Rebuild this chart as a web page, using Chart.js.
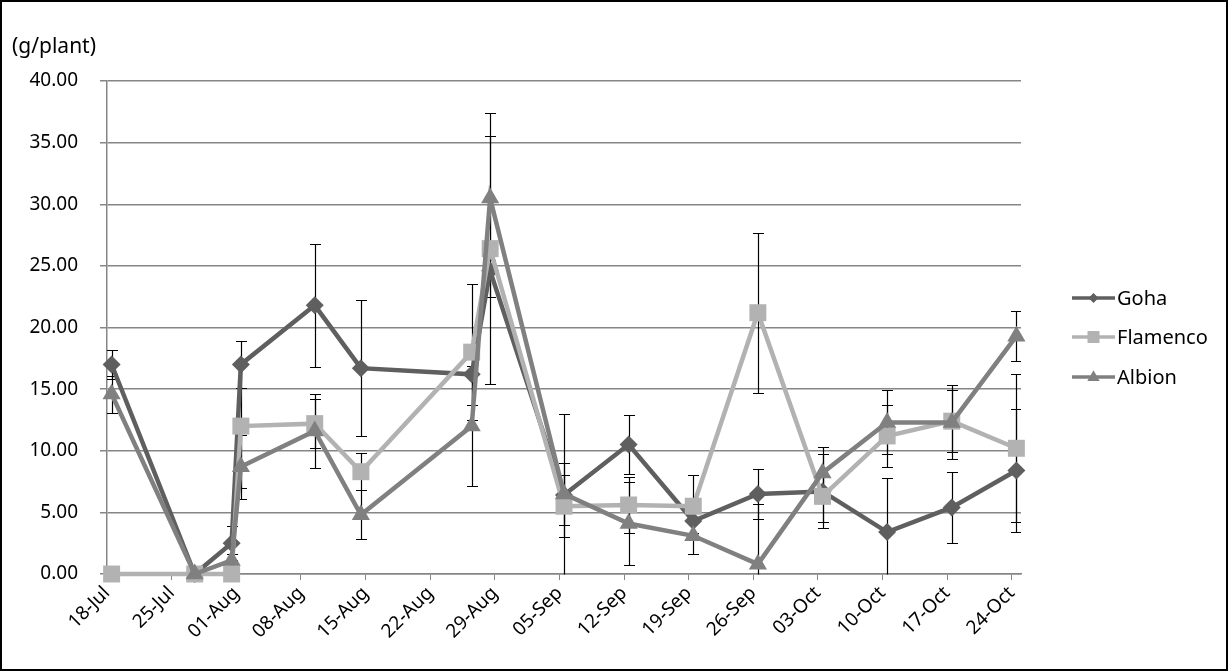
<!DOCTYPE html>
<html>
<head>
<meta charset="utf-8">
<script src="https://cdn.jsdelivr.net/npm/chart.js@4/dist/chart.umd.min.js"></script>
<style>
  html, body { margin: 0; padding: 0; background: #fff; }
  #wrap { position: relative; width: 1229px; height: 672px; }
  canvas { display: block; }
</style>
</head>
<body>
<div id="wrap"><canvas id="c" width="1229" height="672"></canvas></div>
<script>
// ---- data ----
const axisStart = '2011-07-18';
const sampleDates = ['2011-07-18','2011-07-27','2011-07-31','2011-08-01','2011-08-09','2011-08-14',
  '2011-08-26','2011-08-28','2011-09-05','2011-09-12','2011-09-19','2011-09-26','2011-10-03',
  '2011-10-10','2011-10-17','2011-10-24'];
const tickLabels = ['18-Jul','25-Jul','01-Aug','08-Aug','15-Aug','22-Aug','29-Aug','05-Sep',
  '12-Sep','19-Sep','26-Sep','03-Oct','10-Oct','17-Oct','24-Oct'];
const seriesNames = ['Goha', 'Flamenco', 'Albion'];
const gohaValues     = [17.0, 0, 2.5, 17.0, 21.8, 16.7, 16.2, 24.6, 6.4, 10.5, 4.3, 6.5, 6.7, 3.4, 5.4, 8.4];
const flamencoValues = [0, 0, 0, 12.0, 12.2, 8.3, 18.0, 26.4, 5.5, 5.6, 5.5, 21.2, 6.3, 11.2, 12.4, 10.2];
const albionValues   = [14.6, 0, 1.1, 8.7, 11.6, 4.8, 12.0, 30.5, 6.5, 4.1, 3.1, 0.8, 8.2, 12.3, 12.3, 19.3];
const gohaErrors     = [1.2, 0, 1.4, 1.9, 5.0, 5.5, 2.5, 2.1, 6.6, 2.4, 1.0, 2.0, 3.0, 4.4, 2.9, 5.0];
const flamencoErrors = [0, 0, 0, 5.0, 2.0, 1.5, 5.5, 11.0, 2.5, 2.3, 2.5, 6.5, 2.1, 2.5, 2.5, 6.0];
const albionErrors   = [1.5, 0, 0.5, 2.6, 3.0, 2.0, 4.9, 5.0, 2.5, 3.4, 1.5, 4.9, 2.1, 2.6, 3.0, 2.0];
const yUnit = '(g/plant)';

// ---- helpers ----
const DAY = 86400000;
const dayOf = s => Math.round((Date.parse(s) - Date.parse(axisStart)) / DAY);
const xDays = sampleDates.map(s => dayOf(s) + 0.5);   // Excel places points mid-day
const tickDays = tickLabels.map((_, i) => i * 7);
const toPts = vals => vals.map((v, i) => ({x: xDays[i], y: v}));

const colors = ['#5f5f5f', '#b2b2b2', '#808080'];
const styles = ['rectRot', 'rect', 'triangle'];
const radii = [9, 12, 10.5];
const errs = [gohaErrors, flamencoErrors, albionErrors];
const FONT = '"Noto Sans", "Open Sans", sans-serif';

function mkDs(i, vals, order) {
  return {
    label: seriesNames[i], data: toPts(vals),
    borderColor: colors[i], backgroundColor: colors[i],
    borderWidth: 4.5, tension: 0,
    pointStyle: styles[i], pointRadius: radii[i], pointHoverRadius: radii[i],
    pointBackgroundColor: colors[i], pointBorderColor: colors[i], pointBorderWidth: 0,
    order: order, clip: false
  };
}

const errorBars = {
  id: 'errorBars',
  beforeDatasetsDraw(chart) {
    const ctx = chart.ctx, xs = chart.scales.x, ys = chart.scales.y, a = chart.chartArea;
    ctx.save();
    ctx.beginPath(); ctx.rect(a.left, a.top, a.right - a.left, a.bottom - a.top + 0.5); ctx.clip();
    ctx.strokeStyle = '#000'; ctx.lineWidth = 1.2;
    chart.data.datasets.forEach((ds, di) => {
      ds.data.forEach((p, j) => {
        const e = errs[di][j];
        if (!e) return;
        const x = Math.round(xs.getPixelForValue(p.x)) + 0.5;
        const yt = Math.round(ys.getPixelForValue(p.y + e)) + 0.5;
        const yb = Math.round(ys.getPixelForValue(p.y - e)) + 0.5;
        ctx.beginPath();
        ctx.moveTo(x, yt); ctx.lineTo(x, yb);
        ctx.moveTo(x - 5.5, yt); ctx.lineTo(x + 5.5, yt);
        ctx.moveTo(x - 5.5, yb); ctx.lineTo(x + 5.5, yb);
        ctx.stroke();
      });
    });
    ctx.restore();
  }
};

function drawMarker(ctx, style, x, y, r, color) {
  ctx.fillStyle = color;
  ctx.beginPath();
  if (style === 'rectRot') {
    ctx.moveTo(x, y - r); ctx.lineTo(x + r, y); ctx.lineTo(x, y + r); ctx.lineTo(x - r, y);
  } else if (style === 'rect') {
    ctx.rect(x - r, y - r, 2 * r, 2 * r);
  } else {
    ctx.moveTo(x, y - r * 1.05); ctx.lineTo(x + r * 0.95, y + r * 0.6); ctx.lineTo(x - r * 0.95, y + r * 0.6);
  }
  ctx.closePath(); ctx.fill();
}

const decor = {
  id: 'decor',
  afterDraw(chart) {
    const ctx = chart.ctx;
    ctx.save();
    // unit label
    ctx.fillStyle = '#000'; ctx.font = '21px ' + FONT;
    ctx.textAlign = 'left'; ctx.textBaseline = 'middle';
    ctx.fillText(yUnit, 12, 47);
    // legend
    const rows = [298, 337, 377];
    const lr = [5, 6, 6.5];
    chart.data.datasets.forEach((ds, i) => {
      const y = rows[i];
      ctx.strokeStyle = colors[i]; ctx.lineWidth = 3.5;
      ctx.beginPath(); ctx.moveTo(1072, y); ctx.lineTo(1115, y); ctx.stroke();
      drawMarker(ctx, styles[i], 1093.5, y, lr[i], colors[i]);
      ctx.fillStyle = '#000'; ctx.font = '20px ' + FONT;
      ctx.textAlign = 'left'; ctx.textBaseline = 'middle';
      ctx.fillText(ds.label, 1117, y + 1);
    });
    // outer frame
    ctx.strokeStyle = '#000'; ctx.lineWidth = 2;
    ctx.strokeRect(1, 1, 1226, 669);
    ctx.restore();
  }
};

new Chart(document.getElementById('c'), {
  type: 'line',
  data: {
    datasets: [mkDs(0, gohaValues, 2), mkDs(1, flamencoValues, 1), mkDs(2, albionValues, 0)]
  },
  options: {
    responsive: false, animation: false, events: [],
    layout: { padding: { top: 81, right: 208, left: 0, bottom: 0 } },
    plugins: { legend: { display: false }, tooltip: { enabled: false }, title: { display: false } },
    scales: {
      x: {
        type: 'linear', min: 0, max: 99,
        afterBuildTicks: s => { s.ticks = tickDays.map(v => ({ value: v })); },
        afterFit: s => { s.height = 98; },
        ticks: {
          autoSkip: false, minRotation: 45, maxRotation: 45, padding: 2,
          color: '#000', font: { family: FONT, size: 19 },
          callback: (v) => tickLabels[tickDays.indexOf(v)] ?? ''
        },
        grid: { drawOnChartArea: false, drawTicks: true, tickLength: 6, color: '#868686', lineWidth: 1 },
        border: { color: '#868686', width: 1.5 }
      },
      y: {
        min: 0, max: 40,
        afterFit: s => { s.width = 107; },
        ticks: {
          stepSize: 5, padding: 22, color: '#000', font: { family: FONT, size: 19 },
          callback: v => Number(v).toFixed(2)
        },
        grid: { color: '#868686', lineWidth: 1.5, tickLength: 7 },
        border: { color: '#868686', width: 1.5 }
      }
    }
  },
  plugins: [errorBars, decor]
});
</script>
</body>
</html>
